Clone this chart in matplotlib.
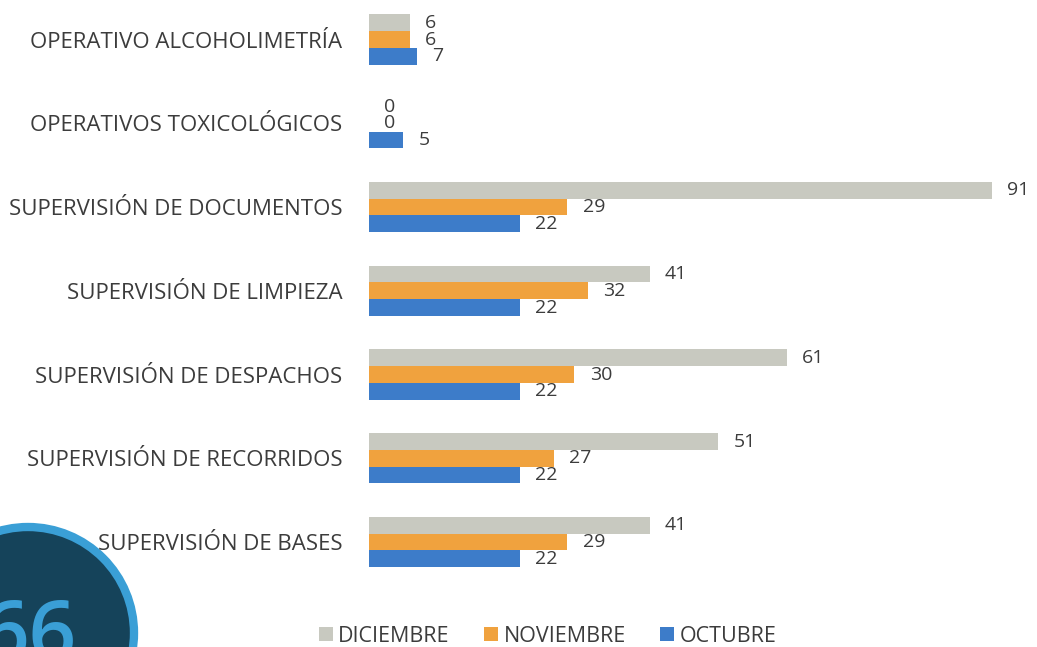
import matplotlib
matplotlib.use("Agg")
import matplotlib.pyplot as plt
from matplotlib.patches import Patch, Circle
import numpy as np

categories = ["SUPERVISIÓN DE BASES", "SUPERVISIÓN DE RECORRIDOS", "SUPERVISIÓN DE DESPACHOS",
              "SUPERVISIÓN DE LIMPIEZA", "SUPERVISIÓN DE DOCUMENTOS", "OPERATIVOS TOXICOLÓGICOS",
              "OPERATIVO ALCOHOLIMETRÍA"]
diciembre = [41, 51, 61, 41, 91, 0, 6]
noviembre = [29, 27, 30, 32, 29, 0, 6]
octubre = [22, 22, 22, 22, 22, 5, 7]
series_names = ["DICIEMBRE", "NOVIEMBRE", "OCTUBRE"]
colors = ["#c8c9c0", "#f0a23e", "#3d7cc9"]

plt.rcParams['font.family'] = ['Open Sans', 'DejaVu Sans']
text_color = "#3c3c3c"

W, H = 1037, 647
fig = plt.figure(figsize=(W / 100, H / 100), dpi=100)

# decorative page-number badge (background)
bg = fig.add_axes([0, 0, 1, 1], zorder=-1)
bg.set_xlim(0, W)
bg.set_ylim(H, 0)
bg.axis("off")
bg.add_patch(Circle((28, 633), 106, facecolor="#15435a", edgecolor="#3a9fd6", linewidth=6))
bg.text(76, 596, "66", color="#3a9fd6", fontsize=60, fontweight="semibold",
        ha="right", va="top")

ax = fig.add_axes([369 / W, 0.0975, 1 - 369 / W, 0.906])
y = np.arange(len(categories))
h = 0.2
series = [diciembre, noviembre, octubre]
offsets = [h, 0, -h]
for vals, off, col in zip(series, offsets, colors):
    bars = ax.barh(y + off, vals, height=h, color=col)
    ax.bar_label(bars, labels=[str(v) for v in vals], padding=11, fontsize=14,
                 color=text_color)

ax.set_xlim(0, 97.6)
ax.set_ylim(-0.5, 6.5)
ax.set_yticks(y)
ax.set_yticklabels(categories, fontsize=16, color=text_color)
ax.tick_params(axis="y", length=0, pad=19)
ax.set_xticks([])
for s in ax.spines.values():
    s.set_visible(False)

handles = [Patch(facecolor=c) for c in colors]
fig.legend(handles, series_names, loc="center", bbox_to_anchor=(0.528, 0.017),
           ncol=3, frameon=False, fontsize=15.5, handlelength=0.65, handleheight=0.65,
           handletextpad=0.25, columnspacing=1.6, labelcolor=text_color)

fig.savefig("out.png", dpi=100)
